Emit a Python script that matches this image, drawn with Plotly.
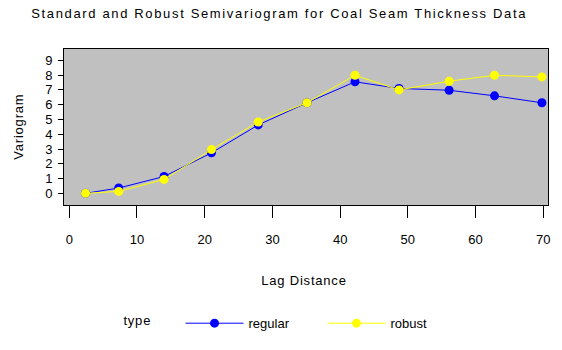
import plotly.graph_objects as go

lag = [2.4, 7.3, 14.0, 21.0, 27.9, 35.1, 42.2, 48.7, 56.1, 62.8, 69.8]
regular = [0.0, 0.36, 1.14, 2.74, 4.63, 6.13, 7.55, 7.1, 6.98, 6.6, 6.13]
robust = [0.0, 0.13, 0.94, 2.96, 4.83, 6.13, 7.99, 7.0, 7.59, 7.99, 7.88]
xticks = [0, 10, 20, 30, 40, 50, 60, 70]
yticks = [0, 1, 2, 3, 4, 5, 6, 7, 8, 9]

FONT = "Liberation Sans, Arial, sans-serif"

fig = go.Figure()
fig.add_trace(go.Scatter(x=lag, y=regular, mode="lines+markers", name="regular",
                         line=dict(color="#0000FF", width=1),
                         marker=dict(color="#0000FF", size=9)))
fig.add_trace(go.Scatter(x=lag, y=robust, mode="lines+markers", name="robust",
                         line=dict(color="#FFFF00", width=1),
                         marker=dict(color="#FFFF00", size=9)))

fig.update_layout(
    width=562, height=350,
    margin=dict(l=64, r=12, t=49, b=144),
    paper_bgcolor="white", plot_bgcolor="#C0C0C0",
    font=dict(family=FONT, size=13, color="black"),
    title=dict(text="Standard and Robust Semivariogram for Coal Seam Thickness Data",
               x=(280 - 64) / 486, xref="paper", y=1 - 13 / 350, yanchor="middle",
               font=dict(size=13)),
    showlegend=True,
    legend=dict(orientation="h", x=(181 - 64) / 486, xanchor="left",
                y=(206 - 325) / 157, yanchor="middle",
                itemwidth=58, entrywidth=69, entrywidthmode="pixels",
                bgcolor="rgba(0,0,0,0)", font=dict(size=13)),
    xaxis=dict(range=[-0.78, 70.7], tickmode="array", tickvals=xticks,
               ticks="outside", ticklen=12, tickcolor="black", tickwidth=1,
               showline=True, linecolor="black", linewidth=1, mirror=True,
               showgrid=False, zeroline=False, ticklabelstandoff=10),
    yaxis=dict(range=[-0.79, 9.77], tickmode="array", tickvals=yticks,
               ticks="outside", ticklen=5, tickcolor="black", tickwidth=1,
               showline=True, linecolor="black", linewidth=1, mirror=True,
               showgrid=False, zeroline=False, ticklabelstandoff=3),
    annotations=[
        dict(text="Lag Distance", xref="paper", yref="paper", x=(305 - 64) / 486,
             y=(206 - 282) / 157, showarrow=False, xanchor="center", yanchor="middle"),
        dict(text="Variogram", xref="paper", yref="paper", x=(18 - 64) / 486, y=0.5,
             showarrow=False, xanchor="center", yanchor="middle", textangle=-90),
        dict(text="type", xref="paper", yref="paper", x=(123 - 64) / 486,
             y=(206 - 322) / 157, showarrow=False, xanchor="left", yanchor="middle"),
    ],
)

post = """
var st = document.createElement('style');
st.textContent = '.gtitle { letter-spacing: 1.65px; } .annotation-text { letter-spacing: 0.8px; }';
document.head.appendChild(st);
"""

fig.write_html("out.html", post_script=post)
